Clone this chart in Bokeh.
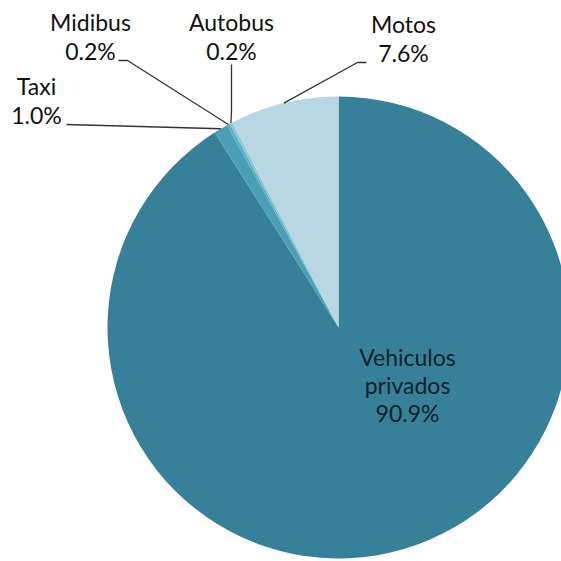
import math
from bokeh.plotting import figure
from bokeh.models import Range1d, ColumnDataSource
from bokeh.core.properties import value
from bokeh.embed import file_html
from bokeh.resources import INLINE

categories = ["Vehiculos privados", "Taxi", "Midibus", "Autobus", "Motos"]
percents = [90.9, 1.0, 0.2, 0.2, 7.6]
pct_labels = ["90.9%", "1.0%", "0.2%", "0.2%", "7.6%"]
colors = ["#37809A", "#4A9EB6", "#5CB0C6", "#8DC5D6", "#B8D7E3"]

W = H = 561
cx, cy, R = 338, -327, 231  # screen-like coords (y negative downward)

p = figure(width=W, height=H, output_backend="svg", toolbar_location=None,
           x_range=Range1d(0, W), y_range=Range1d(-H, 0),
           min_border=0)
p.axis.visible = False
p.grid.visible = False
p.outline_line_color = None
p.background_fill_color = "white"

total = sum(percents)
starts, ends, mids = [], [], []
cum = 0.0
for v in percents:
    a0 = math.pi / 2 - 2 * math.pi * cum / total
    cum += v
    a1 = math.pi / 2 - 2 * math.pi * cum / total
    starts.append(a0)
    ends.append(a1)
    mids.append((a0 + a1) / 2)

src = ColumnDataSource(dict(start=starts, end=ends, color=colors))
p.wedge(x=cx, y=cy, radius=R, start_angle="start", end_angle="end",
        direction="clock", fill_color="color", line_color=None, source=src)

def edge(i):
    return cx + R * math.cos(mids[i]), cy + R * math.sin(mids[i])

# leader lines
lc = "#333333"
ex, ey = edge(1)  # Taxi
p.line([66, ex], [-124, ey], line_color=lc, line_width=1.3)
ex, ey = edge(2)  # Midibus
p.line([118, 127, ex], [-60, -60, ey], line_color=lc, line_width=1.3)
ex, ey = edge(3)  # Autobus
p.line([231, 231, ex], [-64, -110, ey], line_color=lc, line_width=1.3)
ex, ey = edge(4)  # Motos
p.line([366, 357, ex], [-62, -62, ey], line_color=lc, line_width=1.3)

font = value("Lato")
fs = "23px"
def lab(x, y, lines, color="#111111", step=29):
    for k, t in enumerate(lines):
        p.text(x=[x], y=[y - step * k], text=[t], text_font=font, text_font_size=fs,
               text_align="center", text_baseline="middle", text_color=color)

lab(90, -21, ["Midibus", pct_labels[2]])
lab(231, -21, ["Autobus", pct_labels[3]])
lab(36, -85, ["Taxi", pct_labels[1]])
lab(403, -23, ["Motos", pct_labels[4]])
lab(407, -356, ["Vehiculos", "privados", pct_labels[0]], color="#0d1f26", step=28)

open("out.html", "w").write(file_html(p, INLINE))
